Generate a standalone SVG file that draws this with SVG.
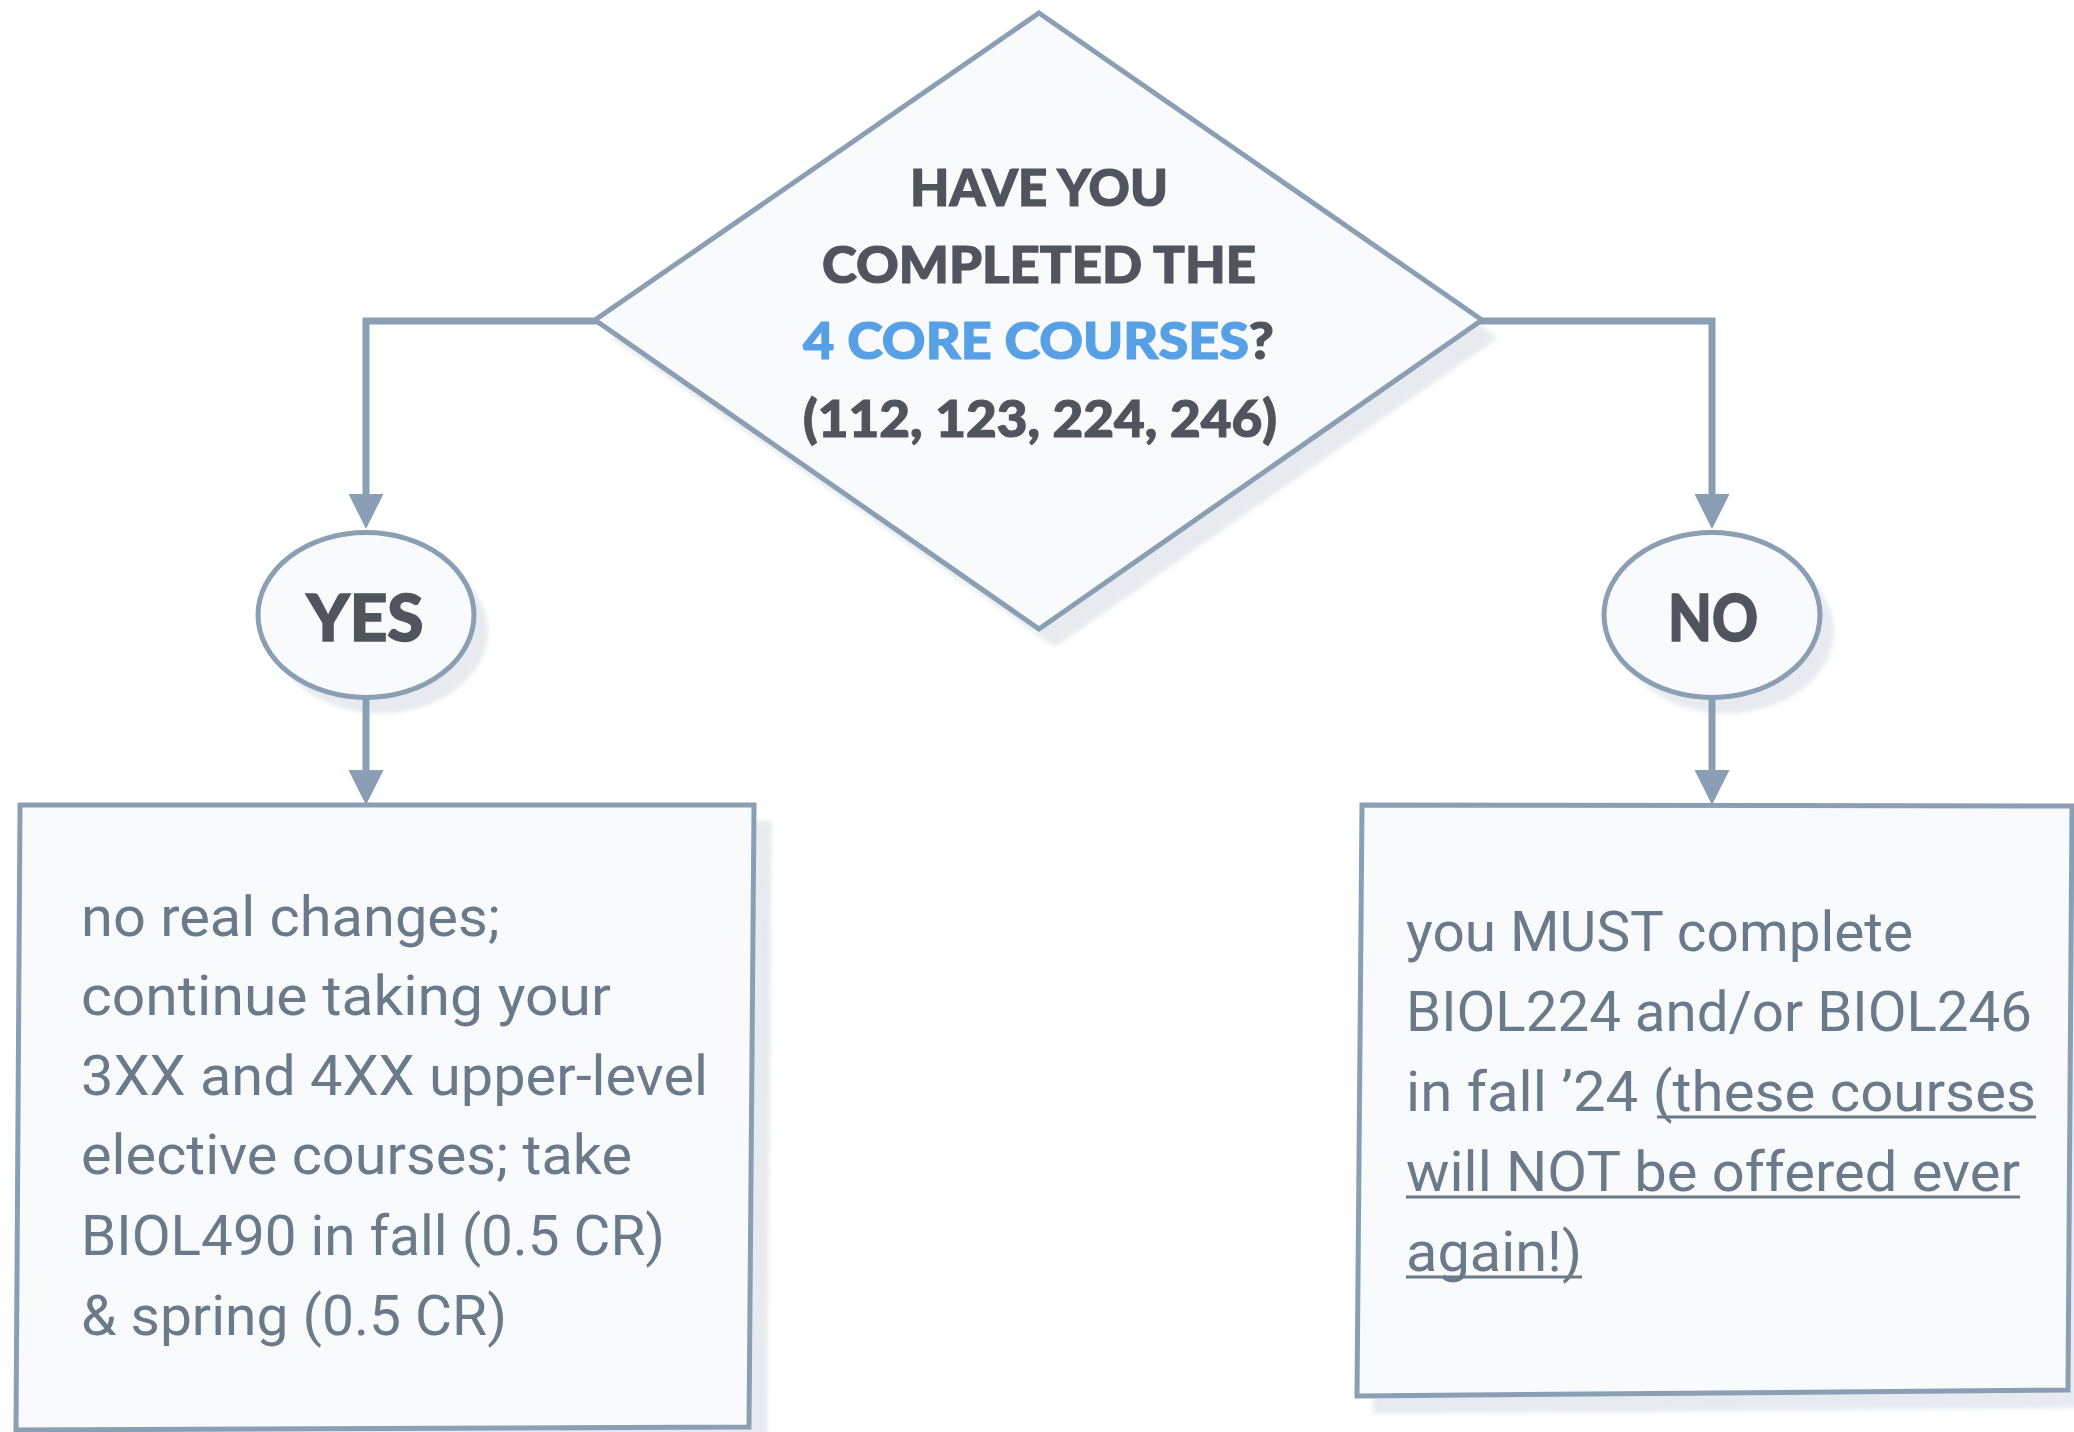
<svg xmlns="http://www.w3.org/2000/svg" width="2074" height="1432" viewBox="0 0 2074 1432">
  <defs>
    <style>
      .shape { fill: #f8fafc; stroke: #8a9fb4; stroke-width: 5; stroke-linejoin: miter; }
      .shadow { fill: #e7ebef; filter: url(#blur); }
      .conn { fill: none; stroke: #8a9fb4; stroke-width: 7; stroke-linejoin: miter; }
      .q { font-family: Lato, "Open Sans", "Liberation Sans", sans-serif; font-weight: 900; font-size: 52px; fill: #50555d; stroke: #50555d; stroke-width: 1.2; text-anchor: middle; }
      .blue { fill: #58a0e6; stroke: #58a0e6; }
      .lbl { font-family: Lato, "Open Sans", "Liberation Sans", sans-serif; font-weight: 900; font-size: 64px; fill: #50555d; stroke: #50555d; stroke-width: 1.5; text-anchor: middle; }
      .body { font-family: Roboto, "Liberation Sans", sans-serif; font-weight: 400; font-size: 56px; fill: #6b7a8a; }
      .ul { stroke: #6b7a8a; stroke-width: 3; }
    </style>
    <filter id="blur" x="-10%" y="-10%" width="120%" height="120%">
      <feGaussianBlur stdDeviation="2"/>
    </filter>
    <marker id="arrow" viewBox="0 0 35 35" refX="0" refY="17.5" markerWidth="35" markerHeight="35" markerUnits="userSpaceOnUse" orient="auto">
      <path d="M0,0 L35,17.5 L0,35 Z" fill="#8a9fb4"/>
    </marker>
  </defs>

  <rect width="2074" height="1432" fill="#ffffff"/>

  <g id="decision">
    <polygon class="shadow" points="1055,31 1498,338 1055,647 611,338"/>
    <polygon class="shape" points="1039,13 1482,320 1039,629 595,320"/>
    <text class="q" x="1039" y="206" textLength="258" lengthAdjust="spacingAndGlyphs">HAVE YOU</text>
    <text class="q" x="1039" y="283" textLength="434" lengthAdjust="spacingAndGlyphs">COMPLETED THE</text>
    <text class="q" x="1038.5" y="359" textLength="471" lengthAdjust="spacingAndGlyphs"><tspan class="blue">4 CORE COURSES</tspan>?</text>
    <text class="q" x="1040" y="437" textLength="474" lengthAdjust="spacingAndGlyphs">(112, 123, 224, 246)</text>
  </g>

  <g id="yes">
    <ellipse class="shadow" cx="380" cy="631" rx="108" ry="82.5"/>
    <ellipse class="shape" cx="366" cy="615" rx="108" ry="82.5"/>
    <text class="lbl" x="365" y="641" textLength="117" lengthAdjust="spacingAndGlyphs">YES</text>
  </g>

  <g id="no">
    <ellipse class="shadow" cx="1726" cy="631" rx="108" ry="82.5"/>
    <ellipse class="shape" cx="1712" cy="615" rx="108" ry="82.5"/>
    <text class="lbl" x="1713" y="641" textLength="90" lengthAdjust="spacingAndGlyphs">NO</text>
  </g>

  <g id="yes-box">
    <polygon class="shadow" points="38,821 772,821 767,1445 34,1448"/>
    <polygon class="shape" points="20,805 754,805 749,1427 16,1430"/>
    <text class="body" x="81" y="936" textLength="419" lengthAdjust="spacingAndGlyphs">no real changes;</text>
    <text class="body" x="81" y="1015" textLength="530" lengthAdjust="spacingAndGlyphs">continue taking your</text>
    <text class="body" x="81" y="1095" textLength="627" lengthAdjust="spacingAndGlyphs">3XX and 4XX upper-level</text>
    <text class="body" x="81" y="1174" textLength="551" lengthAdjust="spacingAndGlyphs">elective courses; take</text>
    <text class="body" x="81" y="1255" textLength="584" lengthAdjust="spacingAndGlyphs">BIOL490 in fall (0.5 CR)</text>
    <text class="body" x="81" y="1335" textLength="426" lengthAdjust="spacingAndGlyphs">&amp; spring (0.5 CR)</text>
  </g>

  <g id="no-box">
    <polygon class="shadow" points="1378,823 2088,824 2084,1408 1373,1414"/>
    <polygon class="shape" points="1362,805 2072,806 2068,1390 1357,1396"/>
    <text class="body" x="1406" y="951" textLength="507" lengthAdjust="spacingAndGlyphs">you MUST complete</text>
    <text class="body" x="1406" y="1031" textLength="626" lengthAdjust="spacingAndGlyphs">BIOL224 and/or BIOL246</text>
    <text class="body" x="1406" y="1111" textLength="630" lengthAdjust="spacingAndGlyphs">in fall ’24 (these courses</text>
    <text class="body" x="1406" y="1191" textLength="614" lengthAdjust="spacingAndGlyphs">will NOT be offered ever</text>
    <text class="body" x="1406" y="1271" textLength="176" lengthAdjust="spacingAndGlyphs">again!)</text>
    <line class="ul" x1="1657" y1="1117" x2="2036" y2="1117"/>
    <line class="ul" x1="1406" y1="1197" x2="2020" y2="1197"/>
    <line class="ul" x1="1406" y1="1277" x2="1582" y2="1277"/>
  </g>

  <g id="connectors">
    <path class="conn" d="M597,321 H366 V494" marker-end="url(#arrow)"/>
    <path class="conn" d="M366,699 V770" marker-end="url(#arrow)"/>
    <path class="conn" d="M1480,321 H1712 V494" marker-end="url(#arrow)"/>
    <path class="conn" d="M1712,699 V770" marker-end="url(#arrow)"/>
  </g>
</svg>
